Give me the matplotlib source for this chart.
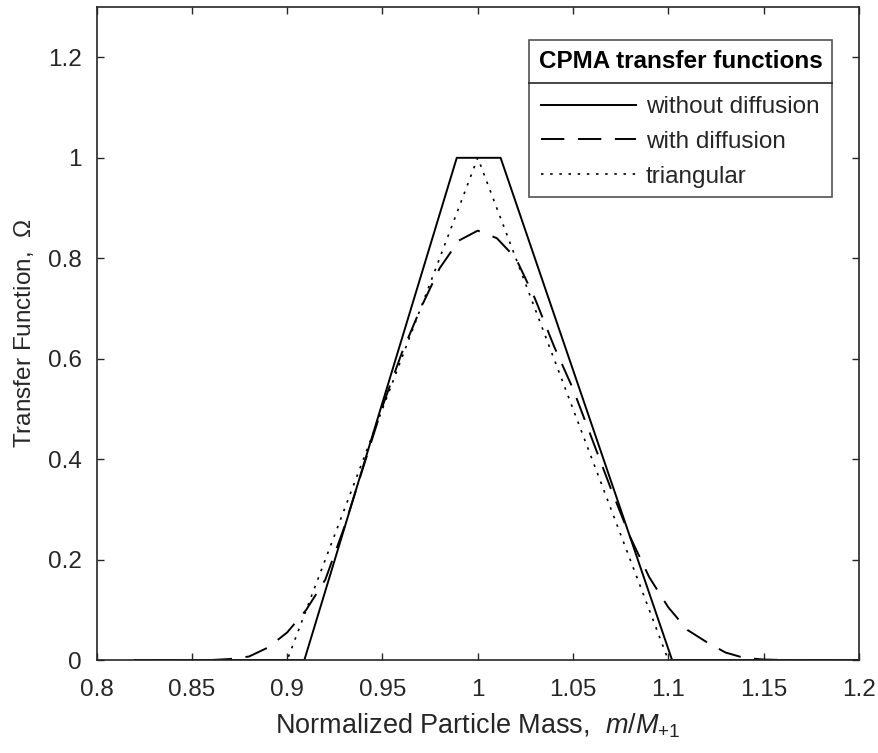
import matplotlib
matplotlib.use("Agg")
import matplotlib.pyplot as plt
from matplotlib.lines import Line2D

plt.rcParams['font.family'] = ['Liberation Sans', 'DejaVu Sans']
plt.rcParams['mathtext.fontset'] = 'custom'
plt.rcParams['mathtext.it'] = 'Liberation Sans:italic'
plt.rcParams['mathtext.rm'] = 'Liberation Sans'

# transfer function without diffusion (trapezoid corners)
m_nodiff = [0.82, 0.909, 0.989, 1.012, 1.102, 1.20]
omega_nodiff = [0.0, 0.0, 1.0, 1.0, 0.0, 0.0]

# triangular approximation
m_tri = [0.82, 0.90, 1.00, 1.10, 1.20]
omega_tri = [0.0, 0.0, 1.0, 0.0, 0.0]

# with diffusion
m_diff = [0.82, 0.83, 0.84, 0.85, 0.86, 0.87, 0.88, 0.89, 0.90, 0.91,
          0.92, 0.93, 0.94, 0.95, 0.96, 0.97, 0.98, 0.99, 1.00, 1.01,
          1.02, 1.03, 1.04, 1.05, 1.06, 1.07, 1.08, 1.09, 1.10, 1.11,
          1.12, 1.13, 1.14, 1.15, 1.16, 1.17, 1.18, 1.19, 1.20]
omega_diff = [0.0, 0.0, 0.0, 0.0, 0.0, 0.002, 0.007, 0.025, 0.055, 0.10,
              0.16, 0.265, 0.385, 0.505, 0.61, 0.70, 0.78, 0.835, 0.855, 0.84,
              0.80, 0.72, 0.625, 0.54, 0.44, 0.34, 0.245, 0.165, 0.105, 0.06,
              0.036, 0.015, 0.004, 0.001, 0.0, 0.0, 0.0, 0.0, 0.0]

xticks = [0.8, 0.85, 0.9, 0.95, 1.0, 1.05, 1.1, 1.15, 1.2]
xticklabels = ['0.8', '0.85', '0.9', '0.95', '1', '1.05', '1.1', '1.15', '1.2']
yticks = [0, 0.2, 0.4, 0.6, 0.8, 1.0, 1.2]
yticklabels = ['0', '0.2', '0.4', '0.6', '0.8', '1', '1.2']

gray = '#262626'
fs = 17.5

fig = plt.figure(figsize=(8.79, 7.53), dpi=100)
ax = fig.add_axes([0.110, 0.1235, 0.867, 0.867])

ax.plot(m_nodiff, omega_nodiff, color='k', lw=1.4, ls='-', label='without diffusion')
ax.plot(m_diff, omega_diff, color='k', lw=1.4, ls=(0, (12, 7)), label='with diffusion')
ax.plot(m_tri, omega_tri, color='k', lw=1.2, ls=(0, (1.5, 4)), label='triangular')

ax.set_xlim(0.8, 1.2)
ax.set_ylim(0, 1.3)
ax.set_xticks(xticks)
ax.set_xticklabels(xticklabels)
ax.set_yticks(yticks)
ax.set_yticklabels(yticklabels)
ax.tick_params(direction='in', top=True, right=True, length=5, width=1.0,
               colors=gray, labelsize=fs, pad=11)
ax.tick_params(axis='x', pad=14)
for s in ax.spines.values():
    s.set_color(gray)
    s.set_linewidth(1.2)

ax.set_xlabel(r'Normalized Particle Mass,  $\mathit{m/M}_{\mathit{+1}}$',
              fontsize=19.5, color=gray, labelpad=7)
ax.set_ylabel(r'Transfer Function,  $\mathit{\Omega}$', fontsize=17.5, color=gray, labelpad=8)

leg = ax.legend(loc='upper right', bbox_to_anchor=(0.965, 0.949), fontsize=fs,
                title='CPMA transfer functions', title_fontproperties={'weight': 'bold', 'size': fs},
                frameon=True, fancybox=False, edgecolor=gray, handlelength=3.9,
                handletextpad=0.4, borderpad=0.4, labelspacing=0.52, borderaxespad=0)
leg._legend_box.sep = 0.95 * fs
leg.get_frame().set_linewidth(1.2)
for t in leg.get_texts():
    t.set_color(gray)
leg.get_title().set_color('k')

# separator line under the legend title
fig.canvas.draw()
fb = leg.get_frame().get_window_extent()
tb = leg.get_title().get_window_extent()
rb = leg.get_texts()[0].get_window_extent()
ysep = 0.5 * (tb.y0 + rb.y1) + 2
inv = fig.transFigure.inverted()
x0, y0 = inv.transform((fb.x0, ysep))
x1, _ = inv.transform((fb.x1, ysep))
fig.add_artist(Line2D([x0, x1], [y0, y0], transform=fig.transFigure, color=gray, lw=1.2))

fig.savefig('out.png', dpi=100)
